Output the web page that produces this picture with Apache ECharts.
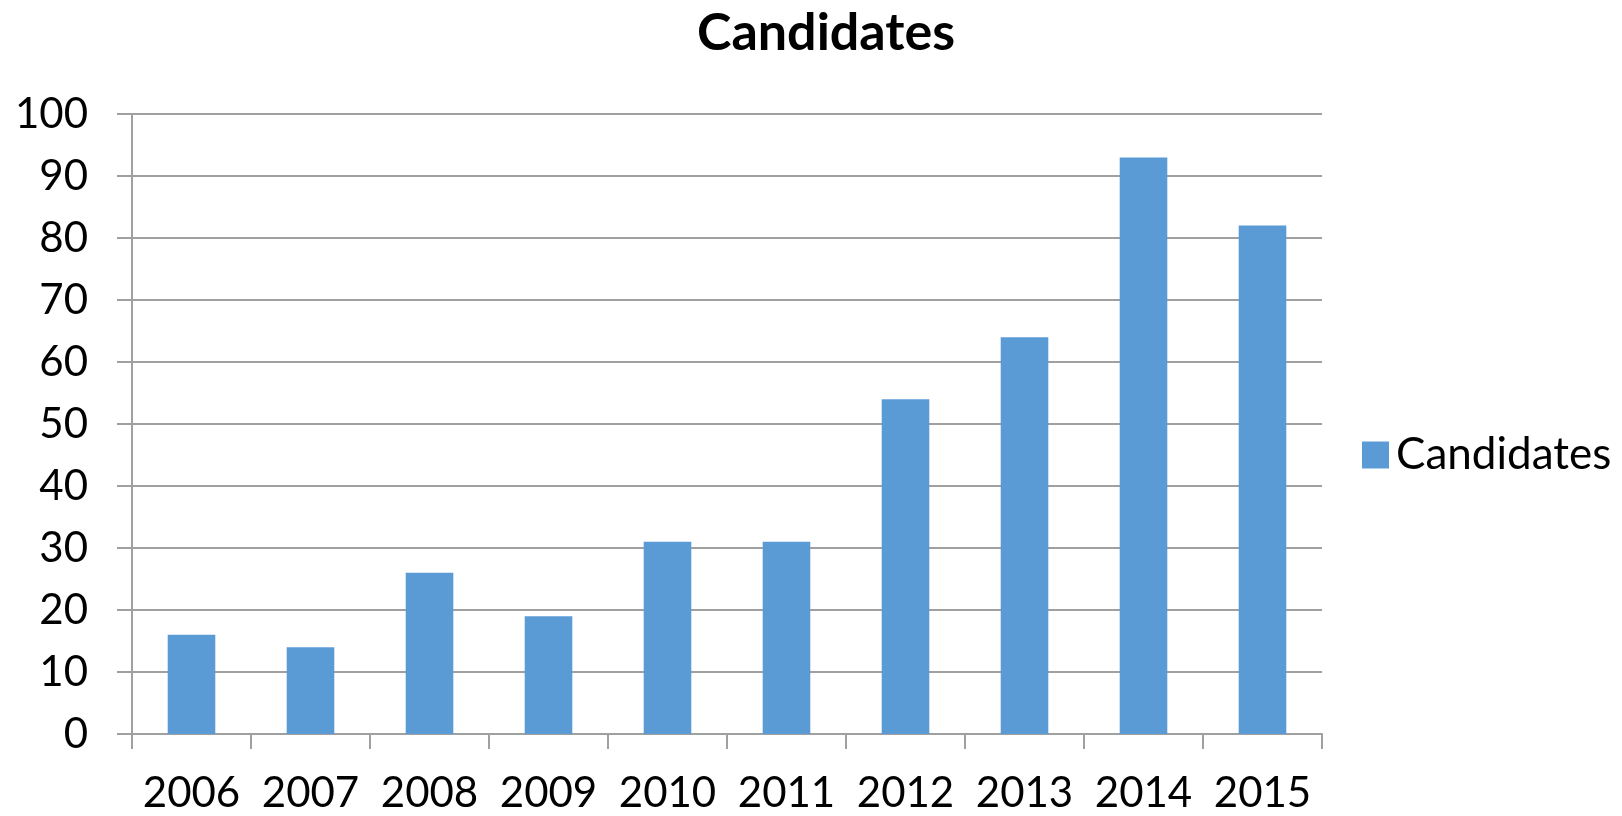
<!DOCTYPE html>
<html><head><meta charset="utf-8">
<script src="https://cdn.jsdelivr.net/npm/echarts@6/dist/echarts.min.js"></script>
<style>html,body{margin:0;padding:0;background:#fff}#c{width:1622px;height:816px}</style>
</head><body><div id="c"></div>
<script>
const categories = ['2006','2007','2008','2009','2010','2011','2012','2013','2014','2015'];
const candidates = [16,14,26,19,31,31,54,64,93,82];
const seriesName = 'Candidates';
const chart = echarts.init(document.getElementById('c'));
const F = 'Lato, "Open Sans", sans-serif';
chart.setOption({
  animation:false,
  title:{text:'Candidates',left:697,top:7,padding:0,
    textStyle:{fontFamily:F,fontSize:52,fontWeight:'bold',color:'#000'}},
  legend:{data:[seriesName],orient:'vertical',left:1357,top:428,
    itemWidth:27,itemHeight:27,itemGap:10,icon:'rect',
    textStyle:{fontFamily:F,fontSize:44,color:'#000',padding:[0,0,0,2]}},
  grid:{left:132,right:300,top:114,bottom:82,containLabel:false},
  xAxis:{type:'category',data:categories,
    axisLine:{lineStyle:{color:'#a0a0a0',width:2}},
    axisTick:{show:true,length:15,inside:false,interval:0,lineStyle:{color:'#a0a0a0',width:2}},
    axisLabel:{fontFamily:F,fontSize:42,color:'#000',margin:38,interval:0}},
  yAxis:{type:'value',min:0,max:100,interval:10,
    axisLine:{show:true,lineStyle:{color:'#a0a0a0',width:2}},
    axisTick:{show:true,length:15,lineStyle:{color:'#a0a0a0',width:2}},
    splitLine:{lineStyle:{color:'#a0a0a0',width:2}},
    axisLabel:{fontFamily:F,fontSize:42,color:'#000',margin:44}},
  series:[{name:seriesName,type:'bar',data:candidates,barWidth:'40%',
    itemStyle:{color:'#5B9BD5'}}]
});
</script></body></html>
